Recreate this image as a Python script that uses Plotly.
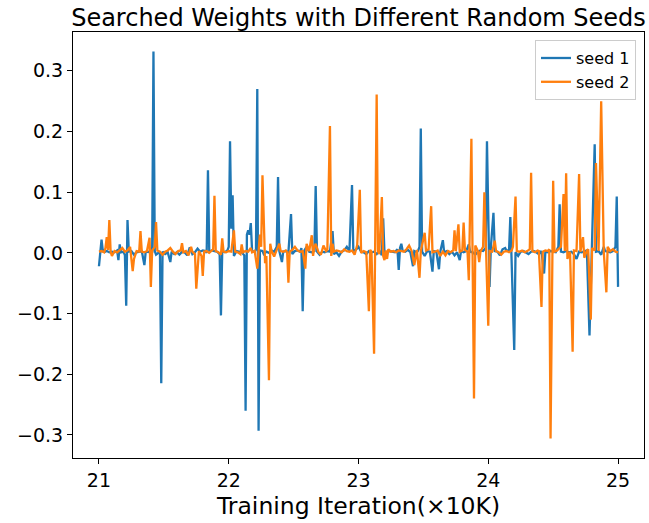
import plotly.graph_objects as go

# ---- data: iteration (x10K) and searched weight values ----
seed1_x = [
    21.00, 21.01, 21.02, 21.03, 21.04, 21.05, 21.06, 21.08, 21.10, 21.12,
    21.14, 21.15, 21.16, 21.17, 21.19, 21.20, 21.21, 21.22, 21.23, 21.25,
    21.27, 21.29, 21.31, 21.33, 21.35, 21.36, 21.38, 21.40, 21.41, 21.42,
    21.43, 21.44, 21.47, 21.48, 21.49, 21.51, 21.53, 21.55, 21.56, 21.58,
    21.60, 21.62, 21.64, 21.66, 21.68, 21.70, 21.72, 21.74, 21.76, 21.78,
    21.80, 21.82, 21.83, 21.84, 21.85, 21.87, 21.89, 21.91, 21.93, 21.94,
    21.95, 21.97, 21.99, 22.00, 22.01, 22.02, 22.03, 22.04, 22.06, 22.08,
    22.10, 22.12, 22.13, 22.14, 22.15, 22.16, 22.17, 22.18, 22.20, 22.21,
    22.22, 22.23, 22.24, 22.26, 22.27, 22.29, 22.31, 22.33, 22.35, 22.37,
    22.38, 22.39, 22.41, 22.42, 22.44, 22.46, 22.48, 22.49, 22.51, 22.53,
    22.55, 22.56, 22.57, 22.58, 22.60, 22.62, 22.64, 22.66, 22.67, 22.68,
    22.70, 22.72, 22.74, 22.76, 22.78, 22.80, 22.81, 22.83, 22.85, 22.87,
    22.89, 22.91, 22.93, 22.95, 22.96, 22.98, 23.00, 23.02, 23.04, 23.06,
    23.08, 23.10, 23.12, 23.14, 23.16, 23.18, 23.19, 23.20, 23.22, 23.24,
    23.26, 23.28, 23.30, 23.31, 23.32, 23.33, 23.34, 23.36, 23.38, 23.40,
    23.42, 23.43, 23.45, 23.46, 23.47, 23.48, 23.49, 23.51, 23.53, 23.55,
    23.57, 23.58, 23.60, 23.62, 23.63, 23.65, 23.66, 23.68, 23.70, 23.72,
    23.74, 23.76, 23.78, 23.79, 23.81, 23.83, 23.85, 23.86, 23.88, 23.90,
    23.92, 23.94, 23.96, 23.98, 23.99, 24.01, 24.02, 24.04, 24.05, 24.07,
    24.09, 24.11, 24.13, 24.14, 24.16, 24.17, 24.20, 24.21, 24.23, 24.25,
    24.27, 24.29, 24.31, 24.33, 24.35, 24.37, 24.39, 24.41, 24.43, 24.44,
    24.46, 24.48, 24.50, 24.52, 24.54, 24.55, 24.56, 24.58, 24.60, 24.62,
    24.64, 24.66, 24.68, 24.70, 24.72, 24.74, 24.76, 24.78, 24.80, 24.82,
    24.83, 24.85, 24.87, 24.89, 24.90, 24.92, 24.94, 24.96, 24.98, 24.99,
    25.00,
]
seed1_y = [
    -0.022, 0.000, 0.022, 0.003, 0.004, 0.002, 0.003, 0.001, 0.002, 0.001,
    0.004, -0.012, 0.014, 0.001, 0.002, -0.004, -0.087, 0.054, 0.002, 0.003,
    -0.003, 0.001, 0.002, 0.003, -0.020, 0.001, 0.002, 0.000, 0.001, 0.332,
    0.003, -0.003, 0.002, -0.215, 0.002, -0.002, 0.001, -0.015, 0.002, -0.002,
    0.001, -0.003, 0.002, 0.001, -0.004, 0.009, -0.002, 0.001, 0.007, 0.002,
    0.004, 0.003, 0.000, 0.136, 0.002, 0.004, 0.003, 0.002, -0.002, -0.103,
    0.003, 0.001, 0.004, 0.010, 0.184, 0.040, 0.095, -0.005, 0.003, 0.002,
    0.001, -0.004, -0.260, 0.030, 0.037, 0.030, 0.049, 0.003, 0.002, 0.006,
    0.270, -0.293, 0.004, 0.003, -0.002, 0.002, 0.000, 0.004, 0.002, 0.010,
    0.125, 0.003, -0.015, 0.002, 0.003, 0.001, 0.064, -0.002, 0.003, 0.004,
    0.002, 0.008, -0.096, 0.003, 0.010, 0.002, 0.001, 0.003, 0.110, 0.002,
    -0.003, 0.002, 0.001, 0.003, 0.002, 0.036, -0.002, 0.001, -0.005, 0.002,
    0.004, 0.010, 0.003, 0.112, 0.003, 0.005, 0.010, 0.002, 0.001, -0.002,
    0.003, 0.001, 0.002, -0.002, 0.004, -0.004, 0.057, 0.002, 0.001, 0.003,
    0.002, 0.001, 0.006, -0.028, 0.008, 0.015, 0.004, 0.002, 0.005, 0.001,
    -0.022, 0.003, 0.001, 0.004, 0.010, 0.205, 0.002, -0.005, 0.003, 0.002,
    -0.031, 0.003, 0.002, -0.027, 0.002, 0.021, 0.001, 0.003, -0.002, 0.002,
    -0.004, 0.001, -0.012, 0.003, 0.001, 0.003, 0.014, 0.002, 0.001, -0.003,
    0.002, 0.004, 0.003, 0.008, 0.184, -0.056, 0.010, 0.066, 0.003, 0.002,
    -0.004, 0.006, 0.008, 0.004, 0.004, 0.059, -0.160, 0.001, -0.005, 0.002,
    0.003, 0.001, -0.002, 0.002, 0.003, 0.001, -0.002, 0.003, -0.034, 0.002,
    0.001, 0.003, 0.002, 0.001, 0.010, 0.080, 0.002, 0.001, 0.003, 0.001,
    0.002, -0.002, -0.010, 0.002, 0.001, 0.003, 0.004, -0.136, 0.004, 0.179,
    0.002, 0.003, -0.003, 0.010, 0.003, 0.002, 0.001, 0.003, 0.010, 0.093,
    -0.056,
]

seed2_x = [
    21.00, 21.02, 21.04, 21.05, 21.06, 21.07, 21.08, 21.09, 21.10, 21.12,
    21.14, 21.16, 21.18, 21.20, 21.22, 21.24, 21.26, 21.27, 21.29, 21.31,
    21.32, 21.33, 21.35, 21.37, 21.39, 21.40, 21.41, 21.43, 21.44, 21.45,
    21.47, 21.49, 21.51, 21.53, 21.55, 21.57, 21.59, 21.61, 21.63, 21.64,
    21.65, 21.67, 21.69, 21.71, 21.72, 21.74, 21.75, 21.77, 21.79, 21.80,
    21.81, 21.83, 21.85, 21.87, 21.88, 21.89, 21.90, 21.92, 21.94, 21.95,
    21.96, 21.98, 22.00, 22.02, 22.04, 22.05, 22.07, 22.09, 22.10, 22.11,
    22.13, 22.15, 22.17, 22.18, 22.20, 22.22, 22.24, 22.25, 22.26, 22.28,
    22.29, 22.31, 22.32, 22.33, 22.35, 22.37, 22.39, 22.40, 22.42, 22.44,
    22.45, 22.46, 22.47, 22.49, 22.51, 22.53, 22.55, 22.57, 22.59, 22.60,
    22.62, 22.64, 22.65, 22.66, 22.67, 22.69, 22.71, 22.73, 22.75, 22.76,
    22.78, 22.79, 22.80, 22.81, 22.83, 22.85, 22.87, 22.89, 22.91, 22.93,
    22.95, 22.97, 22.99, 23.01, 23.02, 23.04, 23.06, 23.08, 23.09, 23.10,
    23.12, 23.14, 23.15, 23.16, 23.18, 23.19, 23.20, 23.21, 23.22, 23.23,
    23.25, 23.27, 23.29, 23.31, 23.33, 23.35, 23.37, 23.39, 23.41, 23.43,
    23.45, 23.47, 23.48, 23.51, 23.52, 23.54, 23.56, 23.57, 23.59, 23.61,
    23.63, 23.65, 23.67, 23.69, 23.71, 23.73, 23.74, 23.75, 23.77, 23.78,
    23.80, 23.81, 23.82, 23.84, 23.85, 23.87, 23.89, 23.90, 23.92, 23.93,
    23.94, 23.96, 23.97, 24.00, 24.01, 24.03, 24.05, 24.06, 24.08, 24.10,
    24.12, 24.14, 24.16, 24.18, 24.19, 24.21, 24.22, 24.24, 24.26, 24.28,
    24.30, 24.32, 24.33, 24.34, 24.36, 24.38, 24.39, 24.41, 24.42, 24.44,
    24.46, 24.47, 24.48, 24.50, 24.51, 24.53, 24.55, 24.56, 24.58, 24.59,
    24.60, 24.61, 24.63, 24.65, 24.66, 24.68, 24.70, 24.71, 24.73, 24.74,
    24.76, 24.77, 24.79, 24.80, 24.82, 24.83, 24.85, 24.87, 24.89, 24.91,
    24.92, 24.94, 24.96, 24.98, 25.00,
]
seed2_y = [
    0.002, 0.003, 0.001, 0.008, 0.026, 0.005, 0.054, 0.002, -0.005, 0.003,
    0.001, 0.005, 0.008, 0.002, 0.004, 0.010, -0.030, -0.010, 0.003, 0.002,
    0.036, 0.002, 0.001, 0.003, 0.025, -0.056, 0.004, 0.010, 0.051, 0.004,
    0.002, -0.003, 0.002, 0.004, 0.008, 0.002, -0.002, 0.003, 0.004, 0.016,
    0.001, 0.003, -0.004, 0.010, 0.002, -0.002, -0.059, 0.003, -0.005, -0.038,
    0.002, 0.003, 0.000, 0.004, 0.006, 0.094, 0.003, 0.001, -0.003, 0.024,
    0.002, 0.001, 0.003, 0.002, 0.037, 0.002, 0.001, -0.002, 0.014, 0.001,
    0.003, 0.002, 0.008, 0.001, 0.003, -0.026, 0.030, 0.010, 0.128, -0.017,
    -0.005, -0.210, 0.015, 0.003, -0.006, 0.005, 0.015, 0.003, 0.002, 0.004,
    0.001, -0.049, 0.002, 0.005, 0.010, 0.004, 0.002, 0.003, -0.026, 0.015,
    0.003, 0.029, -0.005, 0.010, 0.015, 0.002, -0.003, 0.012, 0.003, 0.005,
    0.209, -0.005, 0.015, 0.002, 0.004, 0.003, 0.001, 0.006, 0.003, 0.002,
    0.004, -0.003, 0.013, 0.104, 0.000, 0.003, 0.001, -0.096, 0.005, 0.002,
    -0.166, 0.261, 0.003, -0.002, 0.092, -0.005, -0.012, 0.004, -0.010, 0.006,
    0.002, 0.003, 0.001, 0.004, 0.003, 0.002, 0.006, 0.012, 0.003, -0.020,
    0.005, -0.041, 0.003, 0.033, 0.004, 0.006, 0.077, 0.001, 0.002, 0.004,
    -0.005, 0.002, -0.004, 0.003, 0.001, 0.004, 0.037, 0.003, 0.047, 0.002,
    0.004, 0.050, 0.005, 0.002, -0.045, 0.188, -0.240, 0.012, 0.003, -0.015,
    0.002, 0.010, 0.100, -0.120, 0.003, 0.002, 0.020, 0.003, 0.001, -0.003,
    0.002, 0.003, 0.001, 0.004, 0.010, 0.093, 0.003, 0.002, 0.004, 0.001,
    0.003, 0.006, 0.132, 0.003, 0.001, 0.004, 0.003, -0.089, 0.002, 0.004,
    0.003, 0.006, -0.306, 0.119, 0.002, 0.004, 0.008, 0.010, 0.097, 0.003,
    0.131, -0.010, 0.002, -0.163, 0.004, 0.003, 0.130, 0.002, 0.026, -0.008,
    0.004, 0.006, -0.110, 0.008, 0.004, 0.148, 0.003, 0.250, 0.002, -0.065,
    0.010, 0.003, 0.006, 0.002, 0.001,
]

x_ticks = [21, 22, 23, 24, 25]
y_ticks = [-0.3, -0.2, -0.1, 0.0, 0.1, 0.2, 0.3]

FONT = "DejaVu Sans"

fig = go.Figure()
fig.add_trace(go.Scatter(x=seed1_x, y=seed1_y, mode="lines", name="seed 1",
                         line=dict(color="#1f77b4", width=2.3)))
fig.add_trace(go.Scatter(x=seed2_x, y=seed2_y, mode="lines", name="seed 2",
                         line=dict(color="#ff7f0e", width=2.3)))

axis_common = dict(
    showgrid=False, zeroline=False, showline=True, mirror=True,
    linecolor="black", linewidth=1, ticks="outside", ticklen=5,
    tickcolor="black", tickwidth=1,
    tickfont=dict(family=FONT, size=19, color="black"),
)

fig.update_layout(
    width=649, height=523,
    margin=dict(l=73, r=5, t=32, b=65),
    paper_bgcolor="white", plot_bgcolor="white",
    font=dict(family=FONT, color="black"),
    title=dict(text="Searched Weights with Different Random Seeds",
               font=dict(family=FONT, size=24, color="black"),
               x=0.5, xref="paper", xanchor="center",
               y=0.967, yref="container", yanchor="middle"),
    xaxis=dict(range=[20.8, 25.2], tickvals=x_ticks,
               title=dict(text="Training Iteration(×10K)",
                          font=dict(family=FONT, size=23.5, color="black"),
                          standoff=7),
               **axis_common),
    yaxis=dict(range=[-0.338, 0.364], tickvals=y_ticks, tickformat=".1f",
               **axis_common),
    legend=dict(x=0.986, y=0.981, xanchor="right", yanchor="top",
                bgcolor="rgba(255,255,255,0.8)", bordercolor="#cccccc",
                borderwidth=1, font=dict(family=FONT, size=16, color="black")),
    showlegend=True,
)

fig.write_html("out.html")
